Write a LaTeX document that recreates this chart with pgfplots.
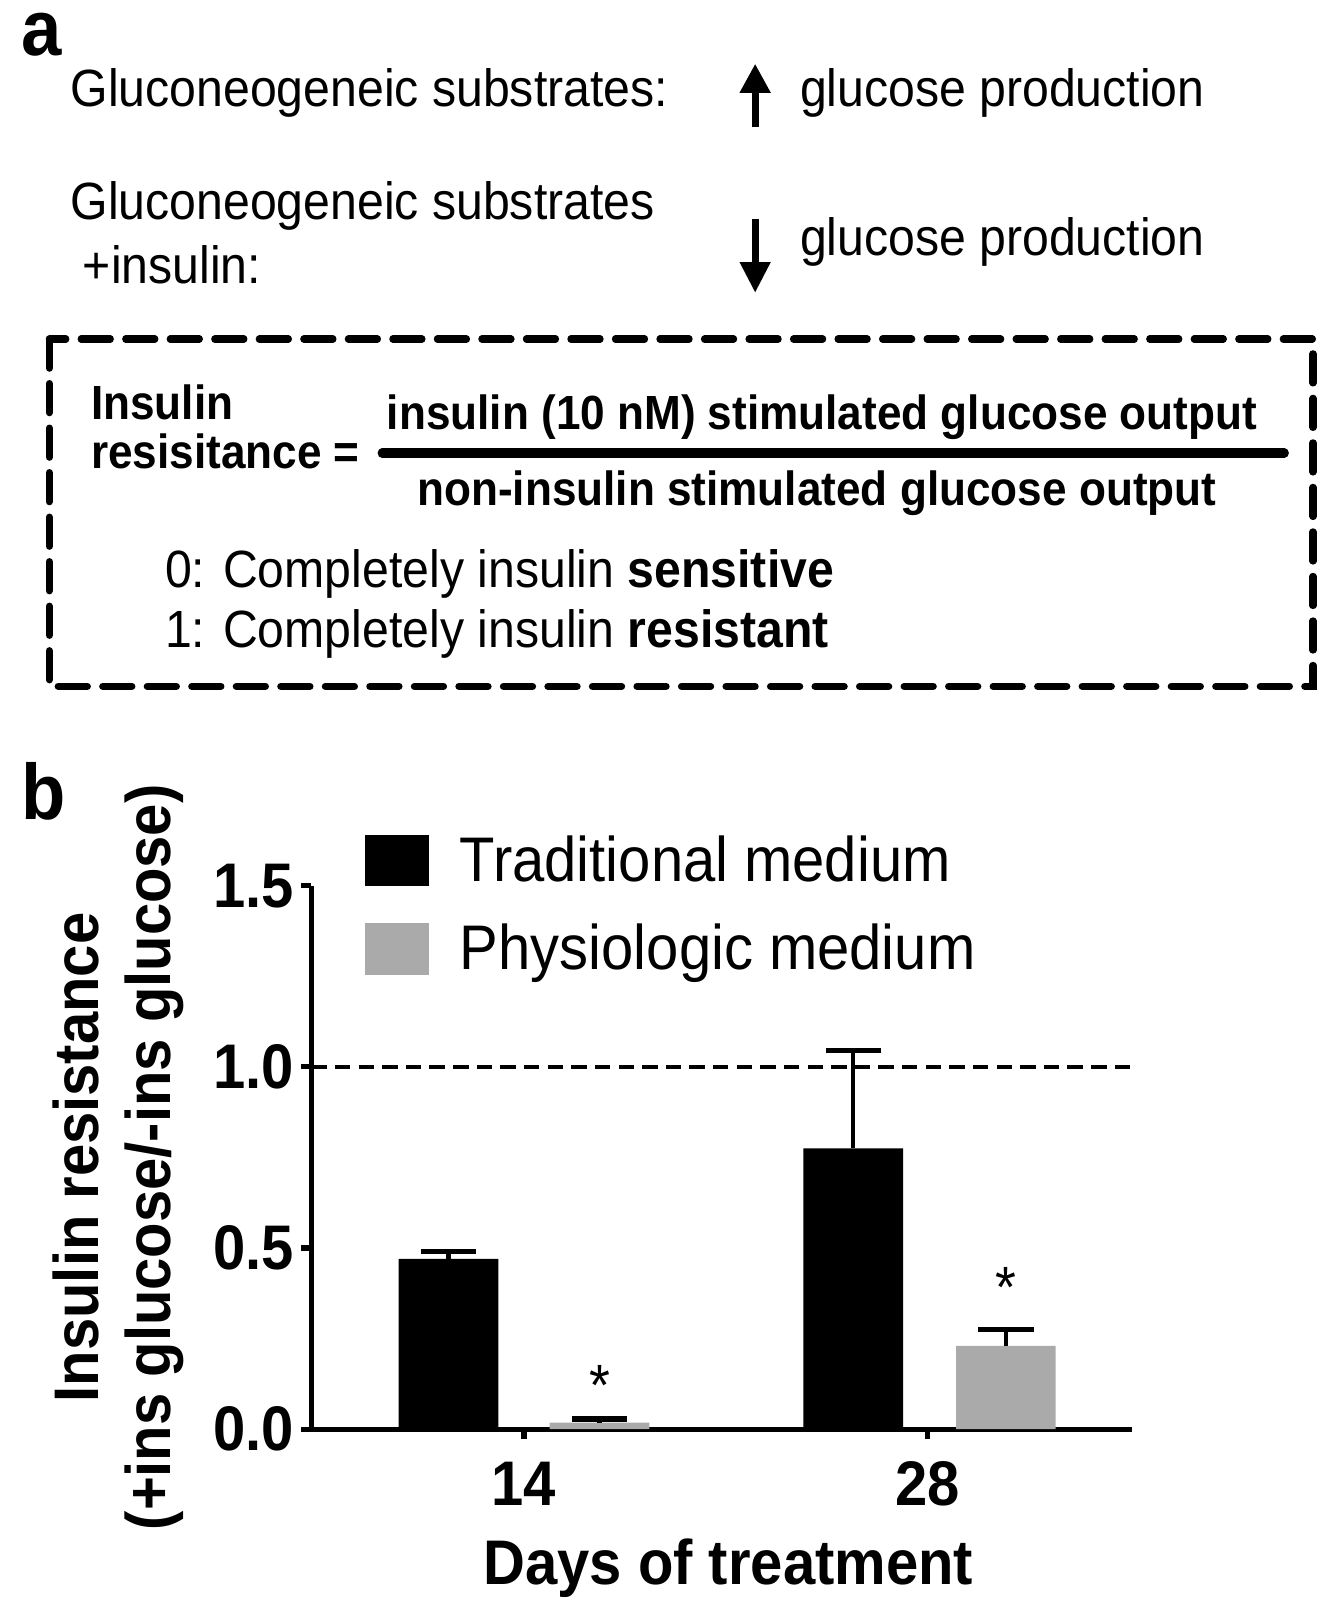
\documentclass[border=0pt]{standalone}
\usepackage{fontspec}
\setmainfont{Liberation Sans}[FakeStretch=0.92]
\usepackage{pgfplots}
\pgfplotsset{compat=1.18}
\usetikzlibrary{arrows.meta}
\definecolor{phys}{RGB}{170,170,170}
\newcommand\pa{\fontsize{15.3}{18.4}\selectfont}
\newcommand\pb{\bfseries\fontsize{14}{17}\selectfont}
\newcommand\cf{\fontsize{18.4}{21}\selectfont}
\begin{document}
\begin{tikzpicture}
\begin{scope}[x=0.3pt,y=-0.3pt]
\path[use as bounding box] (0,0) rectangle (1290,1568);
% panel labels
\node[anchor=base west, inner sep=0, font=\bfseries\fontsize{23}{23}\selectfont] at (20,54) {a};
\node[anchor=base west, inner sep=0, font=\bfseries\fontsize{23}{23}\selectfont] at (20,798) {b};
% panel a
\node[anchor=base west, inner sep=0, font=\pa] at (68,104) {Gluconeogeneic substrates:};
\node[anchor=base west, inner sep=0, font=\pa] at (778,104) {glucose production};
\node[anchor=base west, inner sep=0, font=\pa] at (68,214) {Gluconeogeneic substrates};
\node[anchor=base west, inner sep=0, font=\pa] at (80,276) {+insulin:};
\node[anchor=base west, inner sep=0, font=\pa] at (778,249) {glucose production};
\draw[line width=2.1pt, -{Triangle[width=8.5pt,length=8.5pt]}] (735,124) -- (735,62);
\draw[line width=2.1pt, -{Triangle[width=8.5pt,length=9pt]}] (735,213) -- (735,285);
\draw[line width=2.1pt, dash pattern=on 8.5pt off 4.5pt, line cap=round] (48,330) rectangle (1278,668);
\node[anchor=base west, inner sep=0, font=\pb] at (88,408) {Insulin};
\node[anchor=base west, inner sep=0, font=\pb] at (88,456) {resisitance =};
\node[anchor=base, inner sep=0, font=\pb] at (800,418) {insulin (10 nM) stimulated glucose output};
\node[anchor=base, inner sep=0, font=\pb] at (795,492) {non-insulin stimulated glucose output};
\draw[line width=2.7pt, line cap=round] (372,441) -- (1250,441);
\node[anchor=base west, inner sep=0, font=\pa] at (160,572) {0: Completely insulin \textbf{sensitive}};
\node[anchor=base west, inner sep=0, font=\pa] at (160,630) {1: Completely insulin \textbf{resistant}};
\end{scope}
\begin{axis}[
  at={(90.9pt,-417.3pt)}, anchor=south west,
  width=239.7pt, height=158.7pt, scale only axis,
  xmin=303, xmax=1102, ymin=0, ymax=1.5,
  axis x line*=bottom, axis y line*=left,
  axis line style={line width=1.5pt, black},
  xtick={510,903}, xticklabels={14,28},
  ytick={0,0.5,1.0,1.5}, yticklabels={0.0,0.5,1.0,1.5},
  tick style={line width=1.5pt, black},
  major tick length=3pt, tick align=outside,
  ticklabel style={font=\bfseries\cf},
  xticklabel style={yshift=-3pt},
  yticklabel style={xshift=1.5pt},
  /pgf/number format/assume math mode=true,
  xlabel={Days of treatment},
  xlabel style={font=\bfseries\cf, at={(axis description cs:0.508,-0.2854)}, anchor=base},
  ylabel={Insulin resistance\\(+ins glucose/-ins glucose)},
  ylabel style={font=\bfseries\cf, align=center, at={(axis description cs:-0.2353,0.5)}, anchor=center, rotate=0},
  clip=false,
  legend cell align=left,
  legend style={draw=none, fill=none, at={(axis cs:355,1.6415)}, anchor=north west,
    inner sep=0pt, font=\cf, row sep=10.8pt, nodes={inner sep=0pt},
    /tikz/every odd column/.append style={column sep=9pt}},
  legend image code/.code={\fill[#1] (0pt,-7.5pt) rectangle (18.6pt,7.5pt);},
]
\addplot[ybar, bar width=97, bar shift=0pt, fill=black, draw=none,
  error bars/.cd, y dir=plus, y explicit,
  error bar style={line width=1.2pt, black},
  error mark options={rotate=90, mark size=8.1pt, line width=1.5pt, black}]
  coordinates {(436.5,0.47) +- (0,0.02) (830.5,0.775) +- (0,0.27)};
\addlegendentry{Traditional medium}
\addplot[ybar, bar width=97, bar shift=0pt, fill=phys, draw=none,
  error bars/.cd, y dir=plus, y explicit,
  error bar style={line width=1.2pt, black},
  error mark options={rotate=90, mark size=8.1pt, line width=1.5pt, black}]
  coordinates {(583.5,0.018) +- (0,0.01) (979,0.23) +- (0,0.045)};
\addlegendentry{Physiologic medium}
\addplot[black, line width=1.2pt, dash pattern=on 4.5pt off 2.4pt, forget plot] coordinates {(303,1) (1102,1)};
\node[font=\fontsize{17}{17}\selectfont] at (axis cs:583.5,0.12) {*};
\node[font=\fontsize{17}{17}\selectfont] at (axis cs:979,0.39) {*};
\end{axis}
\end{tikzpicture}
\end{document}
